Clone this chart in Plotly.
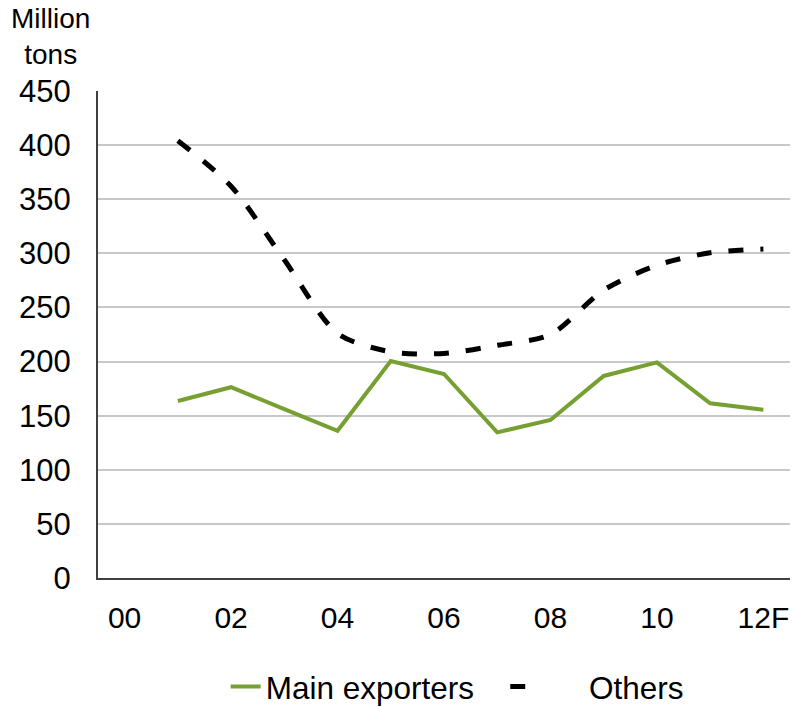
import plotly.graph_objects as go

categories = ["00", "01", "02", "03", "04", "05", "06", "07", "08", "09", "10", "11", "12F"]
years_main = ["01", "02", "03", "04", "05", "06", "07", "08", "09", "10", "11", "12F"]
main_exporters = [163.6, 176.3, 156, 136, 200.5, 188.5, 134.6, 146, 186.7, 199.3, 161.4, 155.5]
others = [404, 362, 294, 226, 209, 207.5, 215, 225, 266, 289, 300.5, 304]
tick_labels = ["00", "02", "04", "06", "08", "10", "12F"]
y_ticks = [0, 50, 100, 150, 200, 250, 300, 350, 400, 450]

FONT = "Liberation Sans, Arial, sans-serif"
NB = "\u00a0"

fig = go.Figure()
fig.add_trace(go.Scatter(
    x=years_main, y=main_exporters, mode="lines", name="Main exporters" + NB * 3,
    line=dict(color="#77A033", width=4),
))
fig.add_trace(go.Scatter(
    x=years_main, y=others, mode="lines", name=NB * 5 + "Others",
    line=dict(color="#000000", width=5, dash="15px,17px", shape="spline", smoothing=0.8),
))

fig.update_layout(
    width=794, height=707,
    margin=dict(l=98, r=4, t=91, b=129),
    plot_bgcolor="white", paper_bgcolor="white",
    font=dict(family=FONT, size=30, color="#000000"),
    showlegend=True,
    legend=dict(orientation="h", x=0.519, xanchor="center", yref="container",
                y=0.029, yanchor="middle", font=dict(size=31.5), tracegroupgap=0,
                itemwidth=30),
    annotations=[dict(text="Million<br>tons", xref="paper", yref="paper",
                      x=-0.068, y=1.112, xanchor="center", yanchor="middle",
                      showarrow=False, font=dict(size=28), align="center")],
)
fig.update_xaxes(
    type="category", categoryorder="array", categoryarray=categories,
    range=[-0.5, 12.5], tickvals=tick_labels, ticktext=tick_labels,
    showline=True, linecolor="#404040", linewidth=2, showgrid=False,
    ticks="", ticklabelstandoff=12, tickfont=dict(size=30), automargin=False,
)
fig.update_yaxes(
    range=[0, 450], tickvals=y_ticks,
    showline=True, linecolor="#404040", linewidth=2,
    showgrid=True, gridcolor="#C8C8C8", gridwidth=1.5,
    ticks="", ticklabelstandoff=19, tickfont=dict(size=31), zeroline=False, automargin=False,
)

fig.write_html("out.html", config={"displayModeBar": False},
               post_script="document.body.style.margin='0';")
